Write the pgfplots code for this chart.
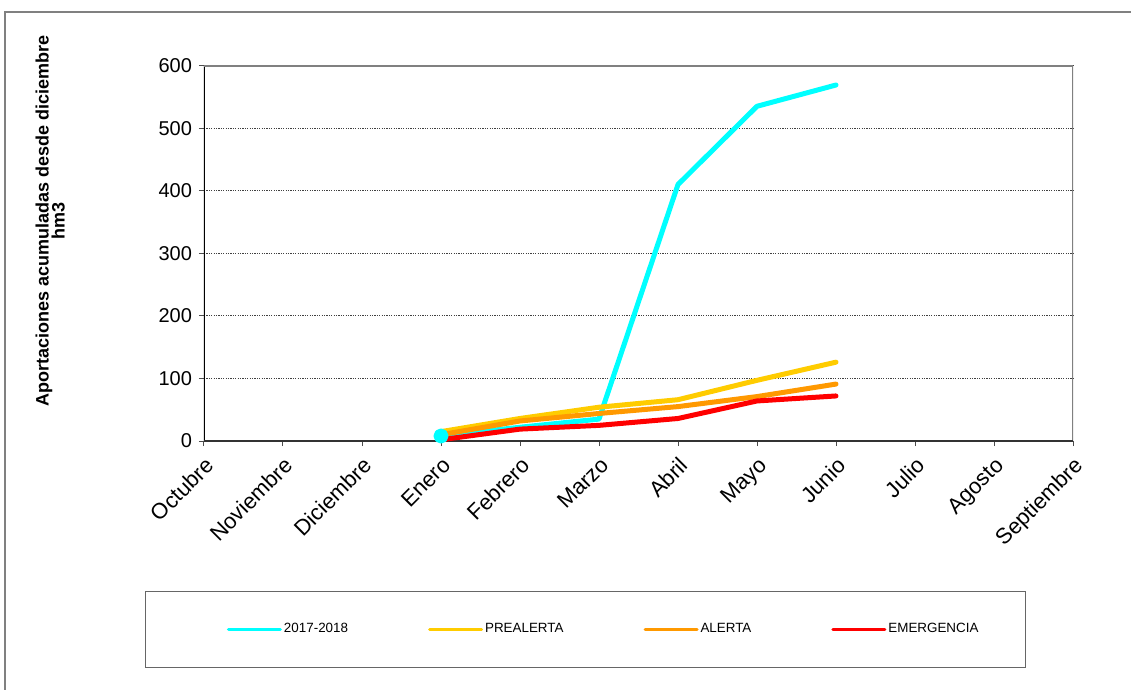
\documentclass[border=0pt]{standalone}
\usepackage{pgfplots}
\pgfplotsset{compat=1.18}
\usepackage{fontspec}
\setmainfont{Liberation Sans}

\definecolor{serCyan}{HTML}{00FFFF}
\definecolor{serYellow}{HTML}{FFCC00}
\definecolor{serOrange}{HTML}{FF9900}
\definecolor{serRed}{HTML}{FF0000}

% month index: 0 = Octubre ... 11 = Septiembre
\pgfplotstableread{
x y
3 8
4 22
5 35
6 410
7 535
8 569
}\actual

\pgfplotstableread{
x y
3 15
4 36
5 54
6 66
7 97
8 126
}\prealerta

\pgfplotstableread{
x y
3 10
4 32
5 44
6 55
7 71
8 91
}\alerta

\pgfplotstableread{
x y
3 2
4 19
5 25
6 36
7 64
8 72
}\emergencia

\begin{document}
\begin{tikzpicture}
\path[use as bounding box] (0,0) rectangle (565.5pt,-345pt);
\draw[gray, line width=1pt] (2.5pt,-6pt) rectangle (600pt,-400pt);
\draw[black!60, line width=0.5pt] (72.5pt,-295.5pt) rectangle (512.5pt,-333.5pt);

\begin{axis}[
    at={(102pt,-220.5pt)}, anchor=south west,
    scale only axis,
    width=434.5pt, height=187.7pt,
    xmin=0, xmax=11,
    ymin=0, ymax=600,
    xtick={0,...,11},
    xticklabels={Octubre,Noviembre,Diciembre,Enero,Febrero,Marzo,Abril,Mayo,Junio,Julio,Agosto,Septiembre},
    ytick={0,100,...,600},
    ymajorgrids=true,
    grid style={black!75, dash pattern=on 0.6pt off 0.6pt, line width=0.4pt},
    axis line style={draw=none},
    tick align=outside,
    tick pos=left,
    major tick length=2.5pt,
    tick style={black!70, line width=0.5pt},
    /pgf/number format/assume math mode=true,
    x tick label style={rotate=45, anchor=north east, font=\fontsize{11}{13}\selectfont},
    y tick label style={font=\fontsize{10}{12}\selectfont},
    ylabel={Aportaciones acumuladas desde diciembre\\[-2.8pt]hm3},
    ylabel style={at={(rel axis cs:-0.177,0.585)}, anchor=center, align=center,
        font=\bfseries\fontsize{9}{10.8}\selectfont},
    legend columns=4,
    legend style={at={(rel axis cs:0.460,-0.502)}, anchor=center,
        draw=none, fill=none, font=\fontsize{6.7}{8}\selectfont,
        /tikz/every even column/.append style={column sep=39pt},
        nodes={inner xsep=1pt}},
    legend image code/.code={\draw[#1, line width=1.5pt, mark=none] (0pt,0pt) -- (26pt,0pt);},
    every axis plot/.append style={line width=2.5pt, line cap=round, line join=round},
]
\draw[black, line width=0.6pt] (rel axis cs:0,0) -- (rel axis cs:0,1);
\draw[gray, line width=1.2pt] (rel axis cs:0,1) -- (rel axis cs:1,1) -- (rel axis cs:1,0);
\draw[black!80, line width=0.9pt] (rel axis cs:0,0) -- (rel axis cs:1,0);

\addplot[serCyan, mark=*, mark indices={1}, mark size=2.5pt] table {\actual};
\addplot[serYellow] table {\prealerta};
\addplot[serOrange] table {\alerta};
\addplot[serRed] table {\emergencia};
\legend{2017-2018,PREALERTA,ALERTA,EMERGENCIA}
\end{axis}
\end{tikzpicture}
\end{document}
